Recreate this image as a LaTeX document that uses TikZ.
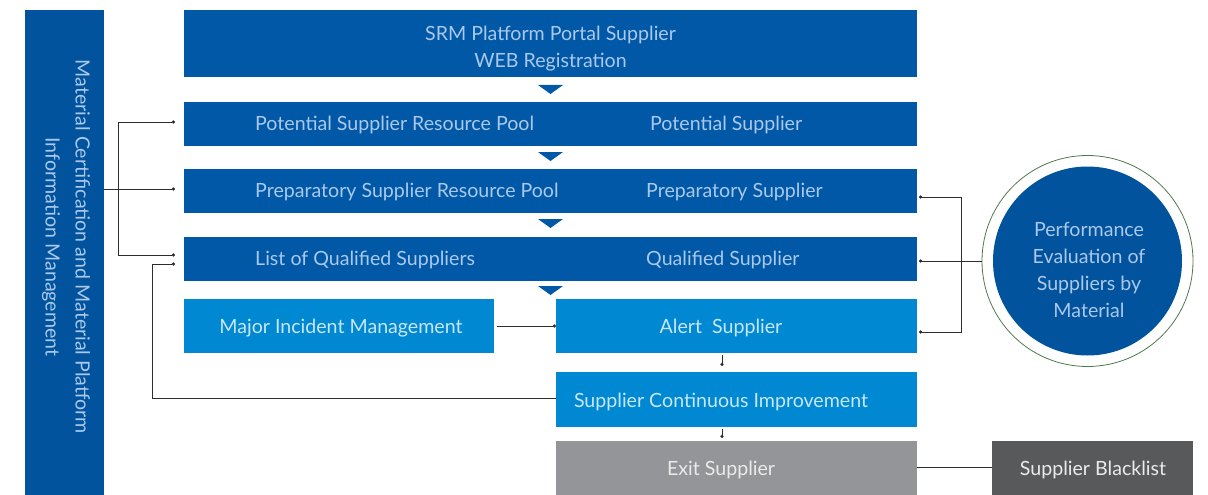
\documentclass[tikz,border=0pt]{standalone}
\usepackage{fontspec}
\setmainfont{Lato}
\usetikzlibrary{arrows.meta}
\definecolor{dblue}{RGB}{0,88,166}
\definecolor{barblue}{RGB}{0,83,156}
\definecolor{lblue}{RGB}{0,137,210}
\definecolor{exitgrey}{RGB}{147,149,152}
\definecolor{blackgrey}{RGB}{88,89,91}
\definecolor{txtdark}{RGB}{170,200,235}
\definecolor{txtlight}{RGB}{200,230,249}
\definecolor{txtgrey}{RGB}{234,234,234}
\definecolor{wire}{RGB}{45,45,45}
\definecolor{ring}{RGB}{80,120,80}
\newcommand{\boxfont}{\fontsize{19.6}{27}\selectfont}
\begin{document}
\begin{tikzpicture}[x=1pt,y=-1pt,
  box/.style={inner sep=0pt, outer sep=0pt, anchor=north west, draw=none},
  lbl/.style={inner sep=0pt, anchor=west, font=\boxfont},
  ctr/.style={inner sep=0pt, font=\boxfont},
  wireline/.style={draw=wire, line width=0.9pt},
  dotend/.style={wireline, -{Circle[length=3.2pt]}},
  dotboth/.style={wireline, {Circle[length=3.2pt]}-{Circle[length=3.2pt]}},
  tri/.style={fill=dblue}]
\useasboundingbox (0,0) rectangle (1208,495);

% left vertical band
\node[box, fill=barblue, minimum width=79pt, minimum height=485pt] (bar) at (25,10) {};
\node[rotate=-90, align=center, text=txtdark, inner sep=0pt,
      font=\fontsize{19.6}{30}\selectfont] (bartxt) at (66,247)
  {Material Certification and Material Platform\\Information Management};

% main column
\node[box, fill=dblue, minimum width=733pt, minimum height=67pt] (reg) at (184,10) {};
\node[ctr, align=center, text=txtdark] (regtxt) at (550.5,49)
  {SRM Platform Portal Supplier\\WEB Registration};

\node[box, fill=dblue, minimum width=733pt, minimum height=44pt] (pot) at (184,102) {};
\node[lbl, text=txtdark] (potA) at (255,125) {Potential Supplier Resource Pool};
\node[lbl, text=txtdark] (potB) at (650,125) {Potential Supplier};

\node[box, fill=dblue, minimum width=733pt, minimum height=44pt] (prep) at (184,169) {};
\node[lbl, text=txtdark] (prepA) at (255,192) {Preparatory Supplier Resource Pool};
\node[lbl, text=txtdark] (prepB) at (646,192) {Preparatory Supplier};

\node[box, fill=dblue, minimum width=733pt, minimum height=44pt] (qual) at (184,237) {};
\node[lbl, text=txtdark] (qualA) at (255,260) {List of Qualified Suppliers};
\node[lbl, text=txtdark] (qualB) at (646,260) {Qualified Supplier};

% flow triangles
\fill[tri] (538,85) -- (563,85) -- (550.5,94) -- cycle;
\fill[tri] (538,152) -- (563,152) -- (550.5,161) -- cycle;
\fill[tri] (538,219) -- (563,219) -- (550.5,228) -- cycle;
\fill[tri] (538,286) -- (563,286) -- (550.5,295) -- cycle;

% lower part
\node[box, fill=lblue, minimum width=310pt, minimum height=54pt] (major) at (184,299) {};
\node[ctr, text=txtlight] (majortxt) at (341,328) {Major Incident Management};

\node[box, fill=lblue, minimum width=361pt, minimum height=54pt] (alert) at (556,299) {};
\node[ctr, text=txtlight] (alerttxt) at (721,328) {Alert\ \ Supplier};

\node[box, fill=lblue, minimum width=361pt, minimum height=55pt] (impr) at (556,372) {};
\node[ctr, text=txtlight] (imprtxt) at (721,402) {Supplier Continuous Improvement};

\node[box, fill=exitgrey, minimum width=361pt, minimum height=54pt] (exit) at (556,441) {};
\node[ctr, text=txtgrey] (exittxt) at (721,470) {Exit Supplier};

\node[box, fill=blackgrey, minimum width=201pt, minimum height=54pt] (black) at (992,441) {};
\node[ctr, text=txtgrey] (blacktxt) at (1093,470) {Supplier Blacklist};

% evaluation circle
\node[circle, draw=ring, line width=0.8pt, minimum size=211pt, inner sep=0pt] (ringc) at (1087.5,261) {};
\node[circle, fill=barblue, minimum size=189pt, inner sep=0pt] (eval) at (1087.5,261) {};
\node[ctr, align=center, text=txtdark] (evaltxt) at (1089,270)
  {Performance\\Evaluation of\\Suppliers by\\Material};

% left connectors
\coordinate (lbx) at (118,0);
\coordinate (lpx) at (175,0);
\draw[dotend] (bar.east |- 0,189) -- (lpx |- 0,189);
\draw[dotboth] (lpx |- 0,122) -- (lbx |- 0,122) -- (lbx |- 0,255) -- (lpx |- 0,255);
\coordinate (lrx) at (152,0);
\draw[dotend] (impr.west |- 0,398) -- (lrx |- 0,398) -- (lrx |- 0,264) -- (lpx |- 0,264);

% right connectors
\coordinate (rbx) at (961,0);
\coordinate (rpx) at (919,0);
\draw[wireline] (ringc.west) -- (rbx |- ringc.west);
\draw[dotboth] (rpx |- 0,197) -- (rbx |- 0,197) -- (rbx |- 0,332) -- (rpx |- 0,332);
\draw[dotend] (rbx |- ringc.west) -- (rpx |- ringc.west);

% lower connectors
\draw[dotend] (497,326) -- (alert.west);
\draw[dotend] (722,355) -- (722,366);
\draw[dotend] (722,429) -- (722,438);
\draw[wireline] (exit.east |- 0,467) -- (black.west |- 0,467);
\end{tikzpicture}
\end{document}
